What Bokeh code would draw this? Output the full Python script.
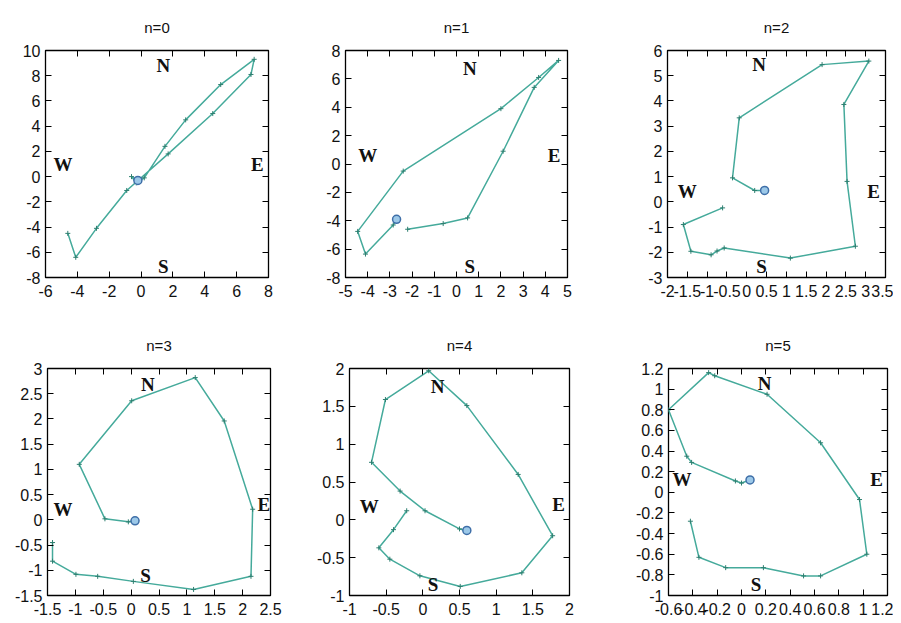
from bokeh.plotting import figure
from bokeh.models import LinearAxis, FixedTicker, Range1d
from bokeh.layouts import row, column
from bokeh.core.properties import value
from bokeh.embed import file_html
from bokeh.resources import INLINE

# ---- data ----
titles = ["n=0", "n=1", "n=2", "n=3", "n=4", "n=5"]

x0 = [-0.2, -0.6, -0.3, 0.2, 1.5, 2.8, 5.0, 7.1, 6.9, 4.5, 1.7, -0.9, -2.8, -4.1, -4.6]
y0 = [-0.3, 0.0, -0.5, -0.1, 2.4, 4.5, 7.3, 9.3, 8.1, 5.0, 1.8, -1.1, -4.1, -6.4, -4.5]

x1 = [-2.7, -2.85, -4.1, -4.45, -2.4, 2.0, 3.7, 4.6, 3.5, 2.1, 0.5, -0.6, -2.2]
y1 = [-3.9, -4.3, -6.35, -4.75, -0.5, 3.9, 6.1, 7.3, 5.4, 0.9, -3.8, -4.2, -4.6]

x2 = [0.45, 0.2, -0.36, -0.19, 1.9, 3.08, 2.45, 2.53, 2.74, 1.1, -0.57, -0.75, -0.9, -1.41, -1.6, -0.61]
y2 = [0.45, 0.45, 0.95, 3.33, 5.44, 5.58, 3.86, 0.81, -1.76, -2.23, -1.83, -1.95, -2.1, -1.96, -0.9, -0.24]

x3 = [0.07, -0.05, -0.47, -0.93, 0.01, 1.15, 1.67, 2.18, 2.15, 1.12, 0.04, -0.6, -0.99, -1.41, -1.41]
y3 = [-0.02, -0.04, 0.02, 1.1, 2.36, 2.82, 1.96, 0.21, -1.12, -1.38, -1.22, -1.12, -1.08, -0.82, -0.45]

x4 = [0.6, 0.5, 0.03, -0.31, -0.7, -0.51, 0.08, 0.6, 1.3, 1.77, 1.35, 0.51, -0.04, -0.45, -0.6, -0.4, -0.22]
y4 = [-0.14, -0.12, 0.12, 0.38, 0.76, 1.59, 1.97, 1.51, 0.6, -0.21, -0.7, -0.88, -0.74, -0.52, -0.37, -0.13, 0.12]

x5 = [0.07, 0.0, -0.05, -0.41, -0.45, -0.6, -0.27, -0.22, 0.21, 0.65, 0.97, 1.03, 0.65, 0.51, 0.18, -0.13, -0.35, -0.42]
y5 = [0.12, 0.09, 0.11, 0.29, 0.35, 0.8, 1.16, 1.13, 0.95, 0.48, -0.07, -0.6, -0.81, -0.81, -0.73, -0.73, -0.63, -0.28]

# axis ranges and ticks
xr = [(-6, 8), (-5, 5), (-2, 3.5), (-1.5, 2.5), (-1, 2), (-0.6, 1.2)]
yr = [(-8, 10), (-8, 8), (-3, 6), (-1.5, 3), (-1, 2), (-1, 1.2)]
xt0 = [-6, -4, -2, 0, 2, 4, 6, 8]
yt0 = [-8, -6, -4, -2, 0, 2, 4, 6, 8, 10]
xt1 = [-5, -4, -3, -2, -1, 0, 1, 2, 3, 4, 5]
yt1 = [-8, -6, -4, -2, 0, 2, 4, 6, 8]
xt2 = [-2, -1.5, -1, -0.5, 0, 0.5, 1, 1.5, 2, 2.5, 3, 3.5]
yt2 = [-3, -2, -1, 0, 1, 2, 3, 4, 5, 6]
xt3 = [-1.5, -1, -0.5, 0, 0.5, 1, 1.5, 2, 2.5]
yt3 = [-1.5, -1, -0.5, 0, 0.5, 1, 1.5, 2, 2.5, 3]
xt4 = [-1, -0.5, 0, 0.5, 1, 1.5, 2]
yt4 = [-1, -0.5, 0, 0.5, 1, 1.5, 2]
xt5 = [-0.6, -0.4, -0.2, 0, 0.2, 0.4, 0.6, 0.8, 1, 1.2]
yt5 = [-1, -0.8, -0.6, -0.4, -0.2, 0, 0.2, 0.4, 0.6, 0.8, 1, 1.2]

# compass labels: text, and per panel positions (data coords) for N, S, W, E
compass = ["N", "S", "W", "E"]
cx = [[1.4, 1.4, -4.9, 7.3], [0.6, 0.6, -4.0, 4.4], [0.31, 0.37, -1.5, 3.2],
      [0.3, 0.26, -1.22, 2.38], [0.2, 0.14, -0.73, 1.85], [0.19, 0.12, -0.49, 1.11]]
cy = [[8.8, -7.1, 1.0, 1.0], [6.7, -7.2, 0.6, 0.6], [5.46, -2.55, 0.42, 0.42],
      [2.68, -1.1, 0.21, 0.3], [1.76, -0.85, 0.17, 0.2], [1.05, -0.89, 0.12, 0.12]]

xs = [x0, x1, x2, x3, x4, x5]
ys = [y0, y1, y2, y3, y4, y5]
xts = [xt0, xt1, xt2, xt3, xt4, xt5]
yts = [yt0, yt1, yt2, yt3, yt4, yt5]

# ---- layout (borders in px) ----
borders = [  # left, right, top, bottom, frame_w
    (45, 35, 50, 39, 223), (42, 31, 50, 39, 222), (69, 8, 50, 39, 218),
    (47, 33, 52, 20, 223), (46, 29, 52, 20, 220), (70, 6, 52, 20, 219),
]
FRAME_H = 227
LINE_COLOR = "#45aa9b"
FONT = "Liberation Sans"


def fmt(v):
    return f"{round(v, 6):g}"


def style_axis(ax, ticks, show_labels, standoff=5):
    ax.ticker = FixedTicker(ticks=ticks)
    if show_labels:
        ax.major_label_overrides = {t: fmt(t) for t in ticks}
    else:
        ax.major_label_overrides = {t: "" for t in ticks}
    ax.axis_line_color = None
    ax.major_tick_in = 6
    ax.major_tick_out = 0
    ax.major_tick_line_color = "black"
    ax.major_tick_line_width = 1
    ax.minor_tick_line_color = None
    ax.major_label_text_font = FONT
    ax.major_label_text_color = "#111111"
    ax.major_label_text_font_size = "16px"
    ax.major_label_standoff = standoff if show_labels else 0


figs = []
for i in range(6):
    bl, br, bt, bb, fw = borders[i]
    p = figure(frame_width=fw, frame_height=FRAME_H,
               x_range=Range1d(*xr[i]), y_range=Range1d(*yr[i]),
               output_backend="svg", toolbar_location=None,
               min_border_left=bl, min_border_right=br,
               min_border_top=bt, min_border_bottom=bb,
               title=titles[i])
    p.title.align = "center"
    p.title.text_font = FONT
    p.title.text_font_size = "15px"
    p.title.text_font_style = "normal"
    p.title.text_color = "#111111"
    p.title.standoff = 30
    p.grid.visible = False
    p.outline_line_color = "black"
    p.outline_line_width = 1.3
    p.outline_line_alpha = 1
    p.background_fill_color = "white"
    p.border_fill_color = "white"

    style_axis(p.xaxis[0], xts[i], True, 7)
    style_axis(p.yaxis[0], yts[i], True, 5)
    top = LinearAxis()
    style_axis(top, xts[i], False)
    right = LinearAxis()
    style_axis(right, yts[i], False)
    p.add_layout(top, "above")
    p.add_layout(right, "right")

    p.line(xs[i], ys[i], line_color=LINE_COLOR, line_width=1.5)
    p.scatter(xs[i], ys[i], marker="cross", size=5, line_color="#2e7f70", line_width=1)
    p.scatter(xs[i][:1], ys[i][:1], marker="circle", size=8,
              fill_color="#9cc8e8", line_color="#3f6fa8", line_width=1.5)
    p.text(x=cx[i], y=cy[i], text=compass, text_align="center", text_baseline="middle",
           text_font=value("Liberation Serif"), text_font_size="19px",
           text_font_style="bold", text_color="#111111")
    figs.append(p)

layout = column(row(*figs[:3], spacing=0), row(*figs[3:], spacing=0), spacing=0)

open("out.html", "w").write(file_html(layout, INLINE))
